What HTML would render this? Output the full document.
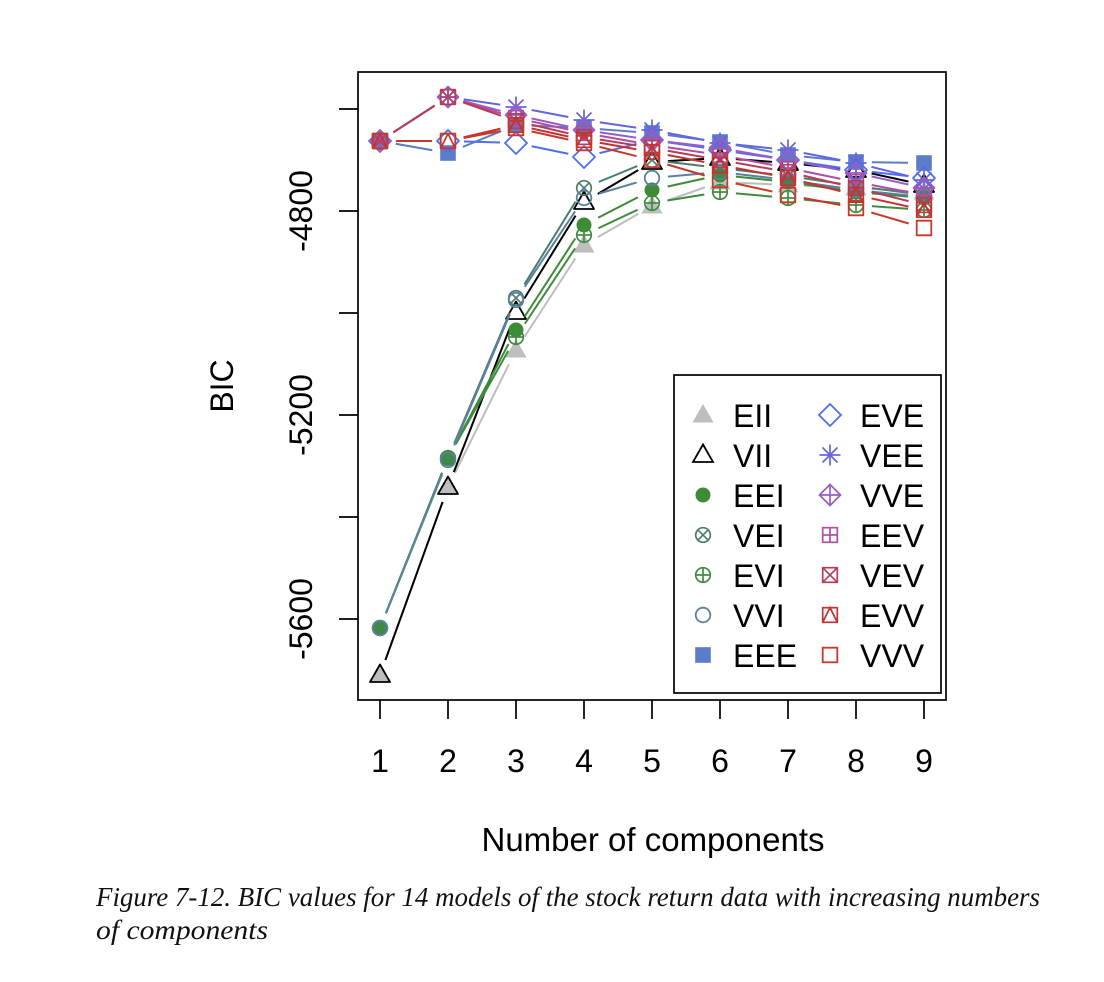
<!DOCTYPE html>
<html>
<head>
<meta charset="utf-8">
<style>
html,body{margin:0;padding:0;background:#fff;}
svg{display:block;}
</style>
</head>
<body>
<svg width="1104" height="982" viewBox="0 0 1104 982" xmlns="http://www.w3.org/2000/svg">
<defs>
  <g id="s17"><polygon points="0,-11 10.5,7.5 -10.5,7.5" fill="currentColor" stroke="none"/></g>
  <g id="s2" fill="none" stroke="currentColor" stroke-width="1.8"><polygon points="0,-10.5 10,7 -10,7"/></g>
  <g id="s16"><circle r="7.5" fill="currentColor"/></g>
  <g id="s13" fill="none" stroke="currentColor" stroke-width="1.7"><circle r="7.3"/><line x1="-5.2" y1="-5.2" x2="5.2" y2="5.2"/><line x1="-5.2" y1="5.2" x2="5.2" y2="-5.2"/></g>
  <g id="s10" fill="none" stroke="currentColor" stroke-width="1.7"><circle r="7.3"/><line x1="-7.3" y1="0" x2="7.3" y2="0"/><line x1="0" y1="-7.3" x2="0" y2="7.3"/></g>
  <g id="s1" fill="none" stroke="currentColor" stroke-width="1.8"><circle r="7.3"/></g>
  <g id="s15"><rect x="-7.8" y="-7.8" width="15.6" height="15.6" fill="currentColor"/></g>
  <g id="s5" fill="none" stroke="currentColor" stroke-width="1.8"><polygon points="0,-11 11,0 0,11 -11,0"/></g>
  <g id="s8" fill="none" stroke="currentColor" stroke-width="1.7"><line x1="-10.5" y1="0" x2="10.5" y2="0"/><line x1="0" y1="-10.5" x2="0" y2="10.5"/><line x1="-7.5" y1="-7.5" x2="7.5" y2="7.5"/><line x1="-7.5" y1="7.5" x2="7.5" y2="-7.5"/></g>
  <g id="s9" fill="none" stroke="currentColor" stroke-width="1.7"><polygon points="0,-10.5 10.5,0 0,10.5 -10.5,0"/><line x1="-10.5" y1="0" x2="10.5" y2="0"/><line x1="0" y1="-10.5" x2="0" y2="10.5"/></g>
  <g id="s12" fill="none" stroke="currentColor" stroke-width="1.7"><rect x="-7.3" y="-7.3" width="14.6" height="14.6"/><line x1="-7.3" y1="0" x2="7.3" y2="0"/><line x1="0" y1="-7.3" x2="0" y2="7.3"/></g>
  <g id="s7" fill="none" stroke="currentColor" stroke-width="1.7"><rect x="-7.3" y="-7.3" width="14.6" height="14.6"/><line x1="-7.3" y1="-7.3" x2="7.3" y2="7.3"/><line x1="-7.3" y1="7.3" x2="7.3" y2="-7.3"/></g>
  <g id="s14" fill="none" stroke="currentColor" stroke-width="1.7"><rect x="-7.3" y="-7.3" width="14.6" height="14.6"/><polyline points="-7.3,7.3 0,-7.3 7.3,7.3"/></g>
  <g id="s0" fill="none" stroke="currentColor" stroke-width="1.8"><rect x="-7.3" y="-7.3" width="14.6" height="14.6"/></g>

  <mask id="mEII" maskUnits="userSpaceOnUse" x="0" y="0" width="1104" height="982"><rect width="1104" height="982" fill="#fff"/><g fill="#000"><circle cx="380" cy="675" r="16"/><circle cx="448" cy="487" r="16"/><circle cx="516" cy="350" r="16"/><circle cx="584" cy="245" r="16"/><circle cx="652" cy="206" r="16"/><circle cx="720" cy="182" r="16"/><circle cx="788" cy="185" r="16"/><circle cx="856" cy="188" r="16"/><circle cx="924" cy="192" r="16"/></g></mask>
  <mask id="mVII" maskUnits="userSpaceOnUse" x="0" y="0" width="1104" height="982"><rect width="1104" height="982" fill="#fff"/><g fill="#000"><circle cx="380" cy="675" r="16"/><circle cx="448" cy="487" r="16"/><circle cx="516" cy="312" r="16"/><circle cx="584" cy="202" r="16"/><circle cx="652" cy="162" r="16"/><circle cx="720" cy="158" r="16"/><circle cx="788" cy="163" r="16"/><circle cx="856" cy="170" r="16"/><circle cx="924" cy="185" r="16"/></g></mask>
  <mask id="mEEI" maskUnits="userSpaceOnUse" x="0" y="0" width="1104" height="982"><rect width="1104" height="982" fill="#fff"/><g fill="#000"><circle cx="380" cy="628" r="16"/><circle cx="448" cy="458" r="16"/><circle cx="516" cy="330" r="16"/><circle cx="584" cy="225" r="16"/><circle cx="652" cy="190" r="16"/><circle cx="720" cy="175" r="16"/><circle cx="788" cy="182" r="16"/><circle cx="856" cy="192" r="16"/><circle cx="924" cy="198" r="16"/></g></mask>
  <mask id="mVEI" maskUnits="userSpaceOnUse" x="0" y="0" width="1104" height="982"><rect width="1104" height="982" fill="#fff"/><g fill="#000"><circle cx="380" cy="628" r="16"/><circle cx="448" cy="458" r="16"/><circle cx="516" cy="298" r="16"/><circle cx="584" cy="188" r="16"/><circle cx="652" cy="160" r="16"/><circle cx="720" cy="168" r="16"/><circle cx="788" cy="176" r="16"/><circle cx="856" cy="186" r="16"/><circle cx="924" cy="195" r="16"/></g></mask>
  <mask id="mEVI" maskUnits="userSpaceOnUse" x="0" y="0" width="1104" height="982"><rect width="1104" height="982" fill="#fff"/><g fill="#000"><circle cx="380" cy="628" r="16"/><circle cx="448" cy="458" r="16"/><circle cx="516" cy="337" r="16"/><circle cx="584" cy="235" r="16"/><circle cx="652" cy="203" r="16"/><circle cx="720" cy="192" r="16"/><circle cx="788" cy="198" r="16"/><circle cx="856" cy="205" r="16"/><circle cx="924" cy="210" r="16"/></g></mask>
  <mask id="mVVI" maskUnits="userSpaceOnUse" x="0" y="0" width="1104" height="982"><rect width="1104" height="982" fill="#fff"/><g fill="#000"><circle cx="380" cy="628" r="16"/><circle cx="448" cy="460" r="16"/><circle cx="516" cy="300" r="16"/><circle cx="584" cy="198" r="16"/><circle cx="652" cy="178" r="16"/><circle cx="720" cy="172" r="16"/><circle cx="788" cy="180" r="16"/><circle cx="856" cy="190" r="16"/><circle cx="924" cy="197" r="16"/></g></mask>
  <mask id="mEEE" maskUnits="userSpaceOnUse" x="0" y="0" width="1104" height="982"><rect width="1104" height="982" fill="#fff"/><g fill="#000"><circle cx="380" cy="141" r="16"/><circle cx="448" cy="153" r="16"/><circle cx="516" cy="125" r="16"/><circle cx="584" cy="128" r="16"/><circle cx="652" cy="133" r="16"/><circle cx="720" cy="142" r="16"/><circle cx="788" cy="155" r="16"/><circle cx="856" cy="162" r="16"/><circle cx="924" cy="163" r="16"/></g></mask>
  <mask id="mEVE" maskUnits="userSpaceOnUse" x="0" y="0" width="1104" height="982"><rect width="1104" height="982" fill="#fff"/><g fill="#000"><circle cx="380" cy="141" r="16"/><circle cx="448" cy="141" r="16"/><circle cx="516" cy="143" r="16"/><circle cx="584" cy="157" r="16"/><circle cx="652" cy="140" r="16"/><circle cx="720" cy="150" r="16"/><circle cx="788" cy="160" r="16"/><circle cx="856" cy="170" r="16"/><circle cx="924" cy="178" r="16"/></g></mask>
  <mask id="mVEE" maskUnits="userSpaceOnUse" x="0" y="0" width="1104" height="982"><rect width="1104" height="982" fill="#fff"/><g fill="#000"><circle cx="380" cy="141" r="16"/><circle cx="448" cy="97" r="16"/><circle cx="516" cy="107" r="16"/><circle cx="584" cy="120" r="16"/><circle cx="652" cy="130" r="16"/><circle cx="720" cy="143" r="16"/><circle cx="788" cy="150" r="16"/><circle cx="856" cy="163" r="16"/><circle cx="924" cy="180" r="16"/></g></mask>
  <mask id="mVVE" maskUnits="userSpaceOnUse" x="0" y="0" width="1104" height="982"><rect width="1104" height="982" fill="#fff"/><g fill="#000"><circle cx="380" cy="141" r="16"/><circle cx="448" cy="97" r="16"/><circle cx="516" cy="115" r="16"/><circle cx="584" cy="130" r="16"/><circle cx="652" cy="140" r="16"/><circle cx="720" cy="148" r="16"/><circle cx="788" cy="160" r="16"/><circle cx="856" cy="173" r="16"/><circle cx="924" cy="188" r="16"/></g></mask>
  <mask id="mEEV" maskUnits="userSpaceOnUse" x="0" y="0" width="1104" height="982"><rect width="1104" height="982" fill="#fff"/><g fill="#000"><circle cx="380" cy="141" r="16"/><circle cx="448" cy="97" r="16"/><circle cx="516" cy="118" r="16"/><circle cx="584" cy="133" r="16"/><circle cx="652" cy="145" r="16"/><circle cx="720" cy="155" r="16"/><circle cx="788" cy="168" r="16"/><circle cx="856" cy="182" r="16"/><circle cx="924" cy="195" r="16"/></g></mask>
  <mask id="mVEV" maskUnits="userSpaceOnUse" x="0" y="0" width="1104" height="982"><rect width="1104" height="982" fill="#fff"/><g fill="#000"><circle cx="380" cy="141" r="16"/><circle cx="448" cy="97" r="16"/><circle cx="516" cy="121" r="16"/><circle cx="584" cy="137" r="16"/><circle cx="652" cy="148" r="16"/><circle cx="720" cy="160" r="16"/><circle cx="788" cy="172" r="16"/><circle cx="856" cy="188" r="16"/><circle cx="924" cy="205" r="16"/></g></mask>
  <mask id="mEVV" maskUnits="userSpaceOnUse" x="0" y="0" width="1104" height="982"><rect width="1104" height="982" fill="#fff"/><g fill="#000"><circle cx="380" cy="141" r="16"/><circle cx="448" cy="141" r="16"/><circle cx="516" cy="125" r="16"/><circle cx="584" cy="140" r="16"/><circle cx="652" cy="152" r="16"/><circle cx="720" cy="165" r="16"/><circle cx="788" cy="178" r="16"/><circle cx="856" cy="195" r="16"/><circle cx="924" cy="210" r="16"/></g></mask>
  <mask id="mVVV" maskUnits="userSpaceOnUse" x="0" y="0" width="1104" height="982"><rect width="1104" height="982" fill="#fff"/><g fill="#000"><circle cx="380" cy="141" r="16"/><circle cx="448" cy="141" r="16"/><circle cx="516" cy="128" r="16"/><circle cx="584" cy="143" r="16"/><circle cx="652" cy="160" r="16"/><circle cx="720" cy="180" r="16"/><circle cx="788" cy="195" r="16"/><circle cx="856" cy="208" r="16"/><circle cx="924" cy="228" r="16"/></g></mask>
</defs>

<rect width="1104" height="982" fill="#fff"/>

<!-- Series -->
<g fill="none" stroke-width="2" stroke-linejoin="round">
  <g style="color:#bebebe">
    <polyline mask="url(#mEII)" stroke="currentColor" points="380,675 448,487 516,350 584,245 652,206 720,182 788,185 856,188 924,192"/>
    <use href="#s17" x="380" y="675"/><use href="#s17" x="448" y="487"/><use href="#s17" x="516" y="350"/><use href="#s17" x="584" y="245"/><use href="#s17" x="652" y="206"/><use href="#s17" x="720" y="182"/><use href="#s17" x="788" y="185"/><use href="#s17" x="856" y="188"/><use href="#s17" x="924" y="192"/>
  </g>
  <g style="color:#000000">
    <polyline mask="url(#mVII)" stroke="currentColor" points="380,675 448,487 516,312 584,202 652,162 720,158 788,163 856,170 924,185"/>
    <use href="#s2" x="380" y="675"/><use href="#s2" x="448" y="487"/><use href="#s2" x="516" y="312"/><use href="#s2" x="584" y="202"/><use href="#s2" x="652" y="162"/><use href="#s2" x="720" y="158"/><use href="#s2" x="788" y="163"/><use href="#s2" x="856" y="170"/><use href="#s2" x="924" y="185"/>
  </g>
  <g style="color:#3d8b35">
    <polyline mask="url(#mEEI)" stroke="currentColor" points="380,628 448,458 516,330 584,225 652,190 720,175 788,182 856,192 924,198"/>
    <use href="#s16" x="380" y="628"/><use href="#s16" x="448" y="458"/><use href="#s16" x="516" y="330"/><use href="#s16" x="584" y="225"/><use href="#s16" x="652" y="190"/><use href="#s16" x="720" y="175"/><use href="#s16" x="788" y="182"/><use href="#s16" x="856" y="192"/><use href="#s16" x="924" y="198"/>
  </g>
  <g style="color:#4b7d68">
    <polyline mask="url(#mVEI)" stroke="currentColor" points="380,628 448,458 516,298 584,188 652,160 720,168 788,176 856,186 924,195"/>
    <use href="#s13" x="380" y="628"/><use href="#s13" x="448" y="458"/><use href="#s13" x="516" y="298"/><use href="#s13" x="584" y="188"/><use href="#s13" x="652" y="160"/><use href="#s13" x="720" y="168"/><use href="#s13" x="788" y="176"/><use href="#s13" x="856" y="186"/><use href="#s13" x="924" y="195"/>
  </g>
  <g style="color:#3f8c40">
    <polyline mask="url(#mEVI)" stroke="currentColor" points="380,628 448,458 516,337 584,235 652,203 720,192 788,198 856,205 924,210"/>
    <use href="#s10" x="380" y="628"/><use href="#s10" x="448" y="458"/><use href="#s10" x="516" y="337"/><use href="#s10" x="584" y="235"/><use href="#s10" x="652" y="203"/><use href="#s10" x="720" y="192"/><use href="#s10" x="788" y="198"/><use href="#s10" x="856" y="205"/><use href="#s10" x="924" y="210"/>
  </g>
  <g style="color:#5b80a2">
    <polyline mask="url(#mVVI)" stroke="currentColor" points="380,628 448,460 516,300 584,198 652,178 720,172 788,180 856,190 924,197"/>
    <use href="#s1" x="380" y="628"/><use href="#s1" x="448" y="460"/><use href="#s1" x="516" y="300"/><use href="#s1" x="584" y="198"/><use href="#s1" x="652" y="178"/><use href="#s1" x="720" y="172"/><use href="#s1" x="788" y="180"/><use href="#s1" x="856" y="190"/><use href="#s1" x="924" y="197"/>
  </g>
  <g style="color:#5b7cc8">
    <polyline mask="url(#mEEE)" stroke="currentColor" points="380,141 448,153 516,125 584,128 652,133 720,142 788,155 856,162 924,163"/>
    <use href="#s15" x="380" y="141"/><use href="#s15" x="448" y="153"/><use href="#s15" x="516" y="125"/><use href="#s15" x="584" y="128"/><use href="#s15" x="652" y="133"/><use href="#s15" x="720" y="142"/><use href="#s15" x="788" y="155"/><use href="#s15" x="856" y="162"/><use href="#s15" x="924" y="163"/>
  </g>
  <g style="color:#4d6ff0">
    <polyline mask="url(#mEVE)" stroke="currentColor" points="380,141 448,141 516,143 584,157 652,140 720,150 788,160 856,170 924,178"/>
    <use href="#s5" x="380" y="141"/><use href="#s5" x="448" y="141"/><use href="#s5" x="516" y="143"/><use href="#s5" x="584" y="157"/><use href="#s5" x="652" y="140"/><use href="#s5" x="720" y="150"/><use href="#s5" x="788" y="160"/><use href="#s5" x="856" y="170"/><use href="#s5" x="924" y="178"/>
  </g>
  <g style="color:#6464e0">
    <polyline mask="url(#mVEE)" stroke="currentColor" points="380,141 448,97 516,107 584,120 652,130 720,143 788,150 856,163 924,180"/>
    <use href="#s8" x="380" y="141"/><use href="#s8" x="448" y="97"/><use href="#s8" x="516" y="107"/><use href="#s8" x="584" y="120"/><use href="#s8" x="652" y="130"/><use href="#s8" x="720" y="143"/><use href="#s8" x="788" y="150"/><use href="#s8" x="856" y="163"/><use href="#s8" x="924" y="180"/>
  </g>
  <g style="color:#9a5cc4">
    <polyline mask="url(#mVVE)" stroke="currentColor" points="380,141 448,97 516,115 584,130 652,140 720,148 788,160 856,173 924,188"/>
    <use href="#s9" x="380" y="141"/><use href="#s9" x="448" y="97"/><use href="#s9" x="516" y="115"/><use href="#s9" x="584" y="130"/><use href="#s9" x="652" y="140"/><use href="#s9" x="720" y="148"/><use href="#s9" x="788" y="160"/><use href="#s9" x="856" y="173"/><use href="#s9" x="924" y="188"/>
  </g>
  <g style="color:#b04ea4">
    <polyline mask="url(#mEEV)" stroke="currentColor" points="380,141 448,97 516,118 584,133 652,145 720,155 788,168 856,182 924,195"/>
    <use href="#s12" x="380" y="141"/><use href="#s12" x="448" y="97"/><use href="#s12" x="516" y="118"/><use href="#s12" x="584" y="133"/><use href="#s12" x="652" y="145"/><use href="#s12" x="720" y="155"/><use href="#s12" x="788" y="168"/><use href="#s12" x="856" y="182"/><use href="#s12" x="924" y="195"/>
  </g>
  <g style="color:#b83c56">
    <polyline mask="url(#mVEV)" stroke="currentColor" points="380,141 448,97 516,121 584,137 652,148 720,160 788,172 856,188 924,205"/>
    <use href="#s7" x="380" y="141"/><use href="#s7" x="448" y="97"/><use href="#s7" x="516" y="121"/><use href="#s7" x="584" y="137"/><use href="#s7" x="652" y="148"/><use href="#s7" x="720" y="160"/><use href="#s7" x="788" y="172"/><use href="#s7" x="856" y="188"/><use href="#s7" x="924" y="205"/>
  </g>
  <g style="color:#c43232">
    <polyline mask="url(#mEVV)" stroke="currentColor" points="380,141 448,141 516,125 584,140 652,152 720,165 788,178 856,195 924,210"/>
    <use href="#s14" x="380" y="141"/><use href="#s14" x="448" y="141"/><use href="#s14" x="516" y="125"/><use href="#s14" x="584" y="140"/><use href="#s14" x="652" y="152"/><use href="#s14" x="720" y="165"/><use href="#s14" x="788" y="178"/><use href="#s14" x="856" y="195"/><use href="#s14" x="924" y="210"/>
  </g>
  <g style="color:#c83828">
    <polyline mask="url(#mVVV)" stroke="currentColor" points="380,141 448,141 516,128 584,143 652,160 720,180 788,195 856,208 924,228"/>
    <use href="#s0" x="380" y="141"/><use href="#s0" x="448" y="141"/><use href="#s0" x="516" y="128"/><use href="#s0" x="584" y="143"/><use href="#s0" x="652" y="160"/><use href="#s0" x="720" y="180"/><use href="#s0" x="788" y="195"/><use href="#s0" x="856" y="208"/><use href="#s0" x="924" y="228"/>
  </g>
</g>

<!-- Plot box -->
<rect x="358" y="72" width="588" height="628" fill="none" stroke="#000" stroke-width="1.7"/>

<g stroke="#000" stroke-width="1.7">
  <line x1="380" y1="700" x2="380" y2="719"/><line x1="448" y1="700" x2="448" y2="719"/><line x1="516" y1="700" x2="516" y2="719"/><line x1="584" y1="700" x2="584" y2="719"/><line x1="652" y1="700" x2="652" y2="719"/><line x1="720" y1="700" x2="720" y2="719"/><line x1="788" y1="700" x2="788" y2="719"/><line x1="856" y1="700" x2="856" y2="719"/><line x1="924" y1="700" x2="924" y2="719"/>
</g>
<g stroke="#000" stroke-width="1.7">
  <line x1="339" y1="109" x2="358" y2="109"/><line x1="339" y1="211" x2="358" y2="211"/><line x1="339" y1="313" x2="358" y2="313"/><line x1="339" y1="415" x2="358" y2="415"/><line x1="339" y1="517" x2="358" y2="517"/><line x1="339" y1="619" x2="358" y2="619"/>
</g>

<g font-family="'Liberation Sans', Arial, Helvetica, sans-serif" font-size="32" fill="#000">
  <g text-anchor="middle">
    <text x="380" y="772">1</text><text x="448" y="772">2</text><text x="516" y="772">3</text><text x="584" y="772">4</text><text x="652" y="772">5</text><text x="720" y="772">6</text><text x="788" y="772">7</text><text x="856" y="772">8</text><text x="924" y="772">9</text>
  </g>
  <g text-anchor="middle">
    <text transform="translate(312,211) rotate(-90)">-4800</text>
    <text transform="translate(312,415) rotate(-90)">-5200</text>
    <text transform="translate(312,619) rotate(-90)">-5600</text>
  </g>
  <text x="653" y="851" text-anchor="middle" font-size="33">Number of components</text>
  <text transform="translate(233,386) rotate(-90)" text-anchor="middle">BIC</text>
</g>

<!-- Legend -->
<rect x="674" y="375" width="267" height="318" fill="#fff" stroke="#000" stroke-width="1.7"/>
<g>
  <use href="#s17" x="703" y="415" style="color:#bebebe"/>
  <use href="#s2" x="703" y="455" style="color:#000"/>
  <use href="#s16" x="703" y="495" style="color:#3d8b35"/>
  <use href="#s13" x="703" y="535" style="color:#4b7d68"/>
  <use href="#s10" x="703" y="575" style="color:#3f8c40"/>
  <use href="#s1" x="703" y="615" style="color:#5b80a2"/>
  <use href="#s15" x="703" y="655" style="color:#5b7cc8"/>
  <use href="#s5" x="830" y="415" style="color:#4d6ff0"/>
  <use href="#s8" x="830" y="455" style="color:#6464e0"/>
  <use href="#s9" x="830" y="495" style="color:#9a5cc4"/>
  <use href="#s12" x="830" y="535" style="color:#b04ea4"/>
  <use href="#s7" x="830" y="575" style="color:#b83c56"/>
  <use href="#s14" x="830" y="615" style="color:#c43232"/>
  <use href="#s0" x="830" y="655" style="color:#c83828"/>
</g>
<g font-family="'Liberation Sans', Arial, Helvetica, sans-serif" font-size="32" fill="#000">
  <text x="733" y="427">EII</text>
  <text x="733" y="467">VII</text>
  <text x="733" y="507">EEI</text>
  <text x="733" y="547">VEI</text>
  <text x="733" y="587">EVI</text>
  <text x="733" y="627">VVI</text>
  <text x="733" y="667">EEE</text>
  <text x="860" y="427">EVE</text>
  <text x="860" y="467">VEE</text>
  <text x="860" y="507">VVE</text>
  <text x="860" y="547">EEV</text>
  <text x="860" y="587">VEV</text>
  <text x="860" y="627">EVV</text>
  <text x="860" y="667">VVV</text>
</g>

<!-- Caption -->
<g font-family="'Liberation Serif', 'Times New Roman', serif" font-style="italic" font-size="27" fill="#111">
  <text x="96" y="906" textLength="944" lengthAdjust="spacingAndGlyphs">Figure 7-12. BIC values for 14 models of the stock return data with increasing numbers</text>
  <text x="96" y="939" textLength="172" lengthAdjust="spacingAndGlyphs">of components</text>
</g>
</svg>
</body>
</html>
